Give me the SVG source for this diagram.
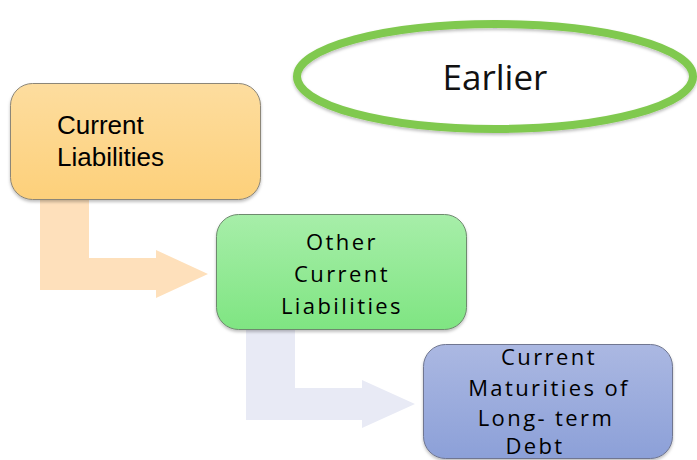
<svg xmlns="http://www.w3.org/2000/svg" width="697" height="460" viewBox="0 0 697 460">
<style>
.box{stroke-width:1}
.t1{font-family:"Liberation Sans",Arial,sans-serif;font-size:26px;fill:#000}
.t2{font-family:"Open Sans","Noto Sans",sans-serif;font-size:22px;letter-spacing:2.4px;fill:#000;text-anchor:middle}
.big{font-family:"Open Sans","Noto Sans",sans-serif;font-size:35px;fill:#111;text-anchor:middle}
</style>
<defs>
<linearGradient id="gO" x1="0" y1="0" x2="0" y2="1"><stop offset="0" stop-color="#fddd9f"/><stop offset="1" stop-color="#fdd07a"/></linearGradient>
<linearGradient id="gG" x1="0" y1="0" x2="0" y2="1"><stop offset="0" stop-color="#a7eea9"/><stop offset="1" stop-color="#7fe582"/></linearGradient>
<linearGradient id="gB" x1="0" y1="0" x2="0" y2="1"><stop offset="0" stop-color="#abb8e2"/><stop offset="1" stop-color="#8ca0d8"/></linearGradient>
<filter id="sh" x="-10%" y="-10%" width="120%" height="130%"><feDropShadow dx="0" dy="2" stdDeviation="1.5" flood-color="#000" flood-opacity="0.25"/></filter>
</defs>
<g id="connectors">
<path d="M40,198 L89,198 L89,258 L156,258 L156,250 L208,274 L156,298 L156,290 L40,290 Z" fill="#fee0bb"/>
<path d="M246,328 L295,328 L295,388 L362,388 L362,380 L415,404 L362,428 L362,420 L246,420 Z" fill="#e8eaf5"/>
</g>
<g id="node-earlier">
<ellipse cx="495" cy="76.5" rx="198" ry="52.5" fill="none" stroke="#80c94f" stroke-width="8" filter="url(#sh)"/>
<text class="big" x="495" y="90">Earlier</text>
</g>
<g id="node-current-liabilities">
<rect class="box" x="10.5" y="83.5" width="250" height="116" rx="22" fill="url(#gO)" stroke="#8c8678" filter="url(#sh)"/>
<text class="t1" x="57" y="134">Current</text>
<text class="t1" x="57" y="166">Liabilities</text>
</g>
<g id="node-other-current-liabilities">
<rect class="box" x="216.5" y="214.5" width="250" height="115" rx="22" fill="url(#gG)" stroke="#6e8a6e" filter="url(#sh)"/>
<text class="t2" x="342" y="250">Other</text>
<text class="t2" x="342" y="282">Current</text>
<text class="t2" x="342" y="314">Liabilities</text>
</g>
<g id="node-current-maturities">
<rect class="box" x="423.5" y="344.5" width="249" height="114" rx="22" fill="url(#gB)" stroke="#6f7690" filter="url(#sh)"/>
<text class="t2" x="549" y="365">Current</text>
<text class="t2" x="549" y="396">Maturities of</text>
<text class="t2" x="546" y="426">Long- term</text>
<text class="t2" x="535" y="454">Debt</text>
</g>
</svg>
